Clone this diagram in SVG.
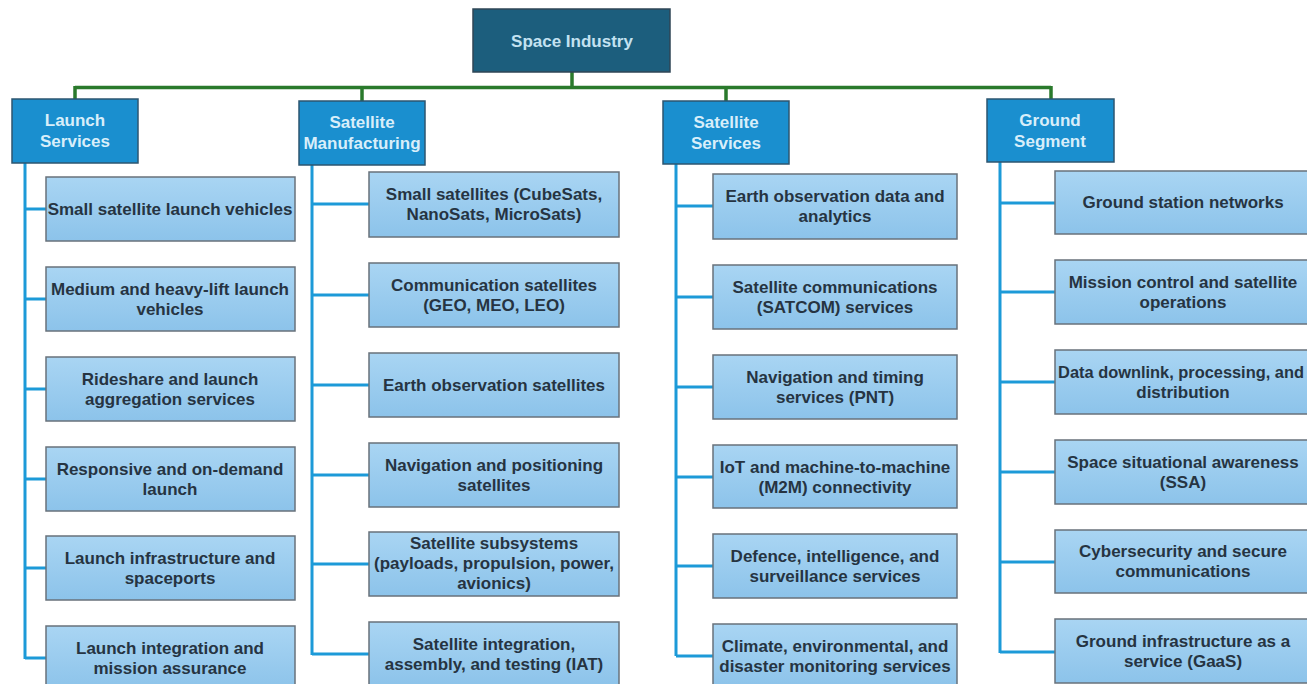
<svg xmlns="http://www.w3.org/2000/svg" width="1307" height="684" viewBox="0 0 1307 684">
<defs>
<linearGradient id="childGrad" x1="0" y1="0" x2="0" y2="1">
<stop offset="0" stop-color="#a9d5f3"/>
<stop offset="1" stop-color="#8cc3ea"/>
</linearGradient>
<style>
.root{fill:#1c5e7d;stroke:#2f4656;stroke-width:1.5}
.hdr{fill:#1a8fcf;stroke:#2d5670;stroke-width:1.5}
.child{fill:url(#childGrad);stroke:#68727b;stroke-width:1.5}
.rt{font-family:"Liberation Sans",Arial,sans-serif;font-size:17px;font-weight:bold;fill:#c4e2f1;text-anchor:middle}
.ht{font-family:"Liberation Sans",Arial,sans-serif;font-size:17px;font-weight:bold;fill:#d8eefa;text-anchor:middle}
.ct{font-family:"Liberation Sans",Arial,sans-serif;font-size:17px;font-weight:bold;fill:#263442;text-anchor:middle}
.green{stroke:#2a7a2c;stroke-width:3.5;fill:none}
.blue{stroke:#1c9ad8;stroke-width:3;fill:none}
</style>
</defs>
<rect width="1307" height="684" fill="#ffffff"/>

<g id="connectors">
<path class="green" d="M572 72 V87.5 M75 87.5 H1051 M75 86 V99 M362 86 V101 M726 86 V101 M1051 86 V99"/>
<path class="blue" d="M25 163 V659 M25 209 H46 M25 299 H46 M25 389 H46 M25 479 H46 M25 568 H46 M25 658 H46"/>
<path class="blue" d="M312 165 V655 M312 204 H369 M312 295 H369 M312 385 H369 M312 475 H369 M312 564 H369 M312 654 H369"/>
<path class="blue" d="M676 164 V656 M676 206 H713 M676 297 H713 M676 387 H713 M676 477 H713 M676 566 H713 M676 656 H713"/>
<path class="blue" d="M1000 162 V653 M1000 203 H1055 M1000 292 H1055 M1000 382 H1055 M1000 472 H1055 M1000 562 H1055 M1000 652 H1055"/>
</g>

<g id="root">
<rect class="root" x="473" y="9" width="197" height="63"/>
<text class="rt" x="572" y="47">Space Industry</text>
</g>

<g id="launch-services">
<rect class="hdr" x="12" y="99" width="126" height="64"/>
<text class="ht" x="75" y="126">Launch</text>
<text class="ht" x="75" y="147">Services</text>
</g>
<g id="satellite-manufacturing">
<rect class="hdr" x="299" y="101" width="126" height="64"/>
<text class="ht" x="362" y="128">Satellite</text>
<text class="ht" x="362" y="149">Manufacturing</text>
</g>
<g id="satellite-services">
<rect class="hdr" x="663" y="101" width="126" height="63"/>
<text class="ht" x="726" y="128">Satellite</text>
<text class="ht" x="726" y="149">Services</text>
</g>
<g id="ground-segment">
<rect class="hdr" x="987" y="99" width="127" height="63"/>
<text class="ht" x="1050" y="126">Ground</text>
<text class="ht" x="1050" y="147">Segment</text>
</g>

<!-- Launch column -->
<g id="l1"><rect class="child" x="46" y="177" width="249" height="64"/><text class="ct" x="170" y="215">Small satellite launch vehicles</text></g>
<g id="l2"><rect class="child" x="46" y="267" width="249" height="64"/><text class="ct" x="170" y="295">Medium and heavy-lift launch</text><text class="ct" x="170" y="315">vehicles</text></g>
<g id="l3"><rect class="child" x="46" y="357" width="249" height="64"/><text class="ct" x="170" y="385">Rideshare and launch</text><text class="ct" x="170" y="405">aggregation services</text></g>
<g id="l4"><rect class="child" x="46" y="447" width="249" height="64"/><text class="ct" x="170" y="475">Responsive and on-demand</text><text class="ct" x="170" y="495">launch</text></g>
<g id="l5"><rect class="child" x="46" y="536" width="249" height="64"/><text class="ct" x="170" y="564">Launch infrastructure and</text><text class="ct" x="170" y="584">spaceports</text></g>
<g id="l6"><rect class="child" x="46" y="626" width="249" height="64"/><text class="ct" x="170" y="654">Launch integration and</text><text class="ct" x="170" y="674">mission assurance</text></g>

<!-- Manufacturing column -->
<g id="m1"><rect class="child" x="369" y="172" width="250" height="65"/><text class="ct" x="494" y="200">Small satellites (CubeSats,</text><text class="ct" x="494" y="220">NanoSats, MicroSats)</text></g>
<g id="m2"><rect class="child" x="369" y="263" width="250" height="64"/><text class="ct" x="494" y="291">Communication satellites</text><text class="ct" x="494" y="311">(GEO, MEO, LEO)</text></g>
<g id="m3"><rect class="child" x="369" y="353" width="250" height="64"/><text class="ct" x="494" y="391">Earth observation satellites</text></g>
<g id="m4"><rect class="child" x="369" y="443" width="250" height="64"/><text class="ct" x="494" y="471">Navigation and positioning</text><text class="ct" x="494" y="491">satellites</text></g>
<g id="m5"><rect class="child" x="369" y="532" width="250" height="64"/><text class="ct" x="494" y="549">Satellite subsystems</text><text class="ct" x="494" y="569">(payloads, propulsion, power,</text><text class="ct" x="494" y="589">avionics)</text></g>
<g id="m6"><rect class="child" x="369" y="622" width="250" height="64"/><text class="ct" x="494" y="650">Satellite integration,</text><text class="ct" x="494" y="670">assembly, and testing (IAT)</text></g>

<!-- Services column -->
<g id="s1"><rect class="child" x="713" y="174" width="244" height="65"/><text class="ct" x="835" y="202">Earth observation data and</text><text class="ct" x="835" y="222">analytics</text></g>
<g id="s2"><rect class="child" x="713" y="265" width="244" height="64"/><text class="ct" x="835" y="293">Satellite communications</text><text class="ct" x="835" y="313">(SATCOM) services</text></g>
<g id="s3"><rect class="child" x="713" y="355" width="244" height="64"/><text class="ct" x="835" y="383">Navigation and timing</text><text class="ct" x="835" y="403">services (PNT)</text></g>
<g id="s4"><rect class="child" x="713" y="445" width="244" height="63"/><text class="ct" x="835" y="473">IoT and machine-to-machine</text><text class="ct" x="835" y="493">(M2M) connectivity</text></g>
<g id="s5"><rect class="child" x="713" y="534" width="244" height="64"/><text class="ct" x="835" y="562">Defence, intelligence, and</text><text class="ct" x="835" y="582">surveillance services</text></g>
<g id="s6"><rect class="child" x="713" y="624" width="244" height="64"/><text class="ct" x="835" y="652">Climate, environmental, and</text><text class="ct" x="835" y="672">disaster monitoring services</text></g>

<!-- Ground column -->
<g id="g1"><rect class="child" x="1055" y="171" width="256" height="63"/><text class="ct" x="1183" y="208">Ground station networks</text></g>
<g id="g2"><rect class="child" x="1055" y="260" width="256" height="64"/><text class="ct" x="1183" y="288">Mission control and satellite</text><text class="ct" x="1183" y="308">operations</text></g>
<g id="g3"><rect class="child" x="1055" y="350" width="256" height="64"/><text class="ct" x="1181" y="378" style="font-size:16.4px">Data downlink, processing, and</text><text class="ct" x="1183" y="398">distribution</text></g>
<g id="g4"><rect class="child" x="1055" y="440" width="256" height="64"/><text class="ct" x="1183" y="468">Space situational awareness</text><text class="ct" x="1183" y="488">(SSA)</text></g>
<g id="g5"><rect class="child" x="1055" y="530" width="256" height="63"/><text class="ct" x="1183" y="557">Cybersecurity and secure</text><text class="ct" x="1183" y="577">communications</text></g>
<g id="g6"><rect class="child" x="1055" y="619" width="256" height="64"/><text class="ct" x="1183" y="647">Ground infrastructure as a</text><text class="ct" x="1183" y="667">service (GaaS)</text></g>
</svg>
